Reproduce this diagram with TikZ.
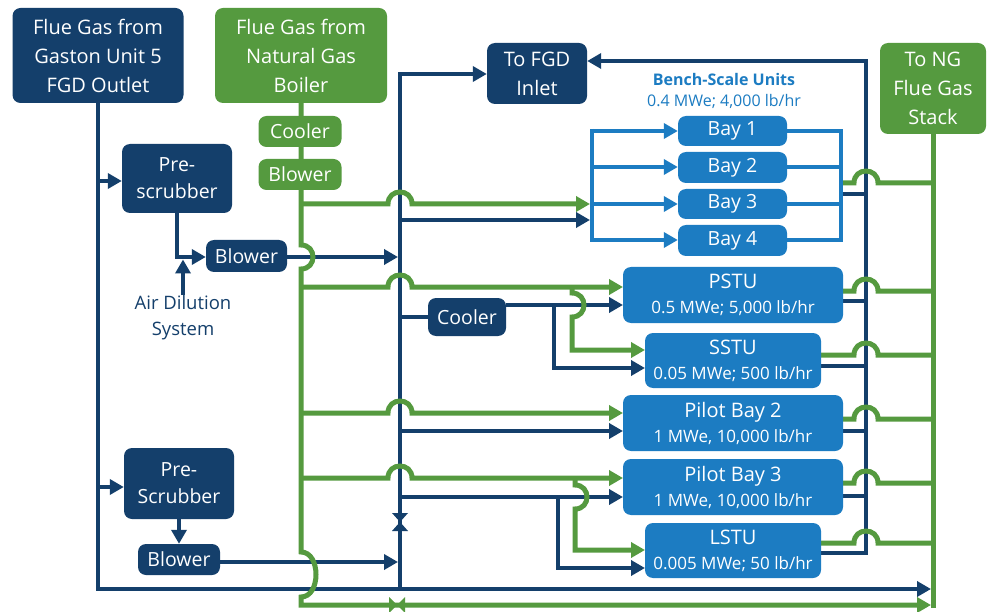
\documentclass[tikz,border=0pt]{standalone}
\usepackage{fontspec}
\setmainfont{Open Sans}
\usetikzlibrary{arrows.meta}
\definecolor{navy}{HTML}{143F6B}
\definecolor{ngreen}{HTML}{559A3F}
\definecolor{lblue}{HTML}{1C7CC2}
\newcommand\hopU[2]{-- ({#1-12},#2) .. controls ({#1-12},{#2-16}) and ({#1+12},{#2-16}) .. ({#1+12},#2)}
\newcommand\hopR[2]{-- (#1,{#2-12}) .. controls ({#1+16},{#2-12}) and ({#1+16},{#2+12}) .. (#1,{#2+12})}
\begin{document}
\begin{tikzpicture}[x=1pt,y=-1pt,
  box/.style={rounded corners=8pt, text=white, align=center, inner sep=0pt},
  navybox/.style={box, fill=navy},
  greenbox/.style={box, fill=ngreen},
  bluebox/.style={box, fill=lblue, font=\fontsize{17}{25}\selectfont},
  big/.style={font=\fontsize{20}{29}\selectfont},
  mid/.style={font=\fontsize{19.5}{27}\selectfont},
  nline/.style={draw=navy, line width=4.5pt},
  gline/.style={draw=ngreen, line width=5pt},
  bline/.style={draw=lblue, line width=4pt},
  tip/.style={-{Triangle[length=14pt,width=15pt]}},
]
\fill[white] (0,0) rectangle (990,612);
\useasboundingbox (0,0) rectangle (990,612);

% ---------- boxes ----------
\node[navybox, big, minimum width=171pt, minimum height=95pt] (gaston) at (98,55.5) {Flue Gas from\\Gaston Unit 5\\FGD Outlet};
\node[greenbox, big, minimum width=172pt, minimum height=95pt] (boiler) at (301,55.5) {Flue Gas from\\Natural Gas\\Boiler};
\node[navybox, big, minimum width=100pt, minimum height=61pt] (fgd) at (537,73.5) {To FGD\\Inlet};
\node[greenbox, big, minimum width=106pt, minimum height=91pt] (stack) at (933,88.5) {To NG\\Flue Gas\\Stack};
\node[navybox, mid, minimum width=110pt, minimum height=69pt] (pre1) at (177,178.5) {Pre-\\scrubber};
\node[navybox, mid, minimum width=81pt, minimum height=32pt] (blow1) at (246.5,256) {Blower};
\node[navybox, mid, minimum width=110pt, minimum height=71pt] (pre2) at (179,483.5) {Pre-\\Scrubber};
\node[navybox, mid, minimum width=82pt, minimum height=31pt] (blow2) at (179,559.5) {Blower};
\node[navybox, mid, minimum width=78pt, minimum height=38pt] (cool2) at (467,317) {Cooler};
\node[text=navy, align=center, inner sep=0pt, anchor=north, font=\fontsize{18.5}{26}\selectfont] (air) at (183,295) {Air Dilution\\System};

\node[text=lblue, inner sep=0pt, font=\bfseries\fontsize{16}{20}\selectfont] (bench) at (724,80) {Bench-Scale Units};
\node[text=lblue, inner sep=0pt, font=\fontsize{16}{20}\selectfont] (benchsub) at (724,101) {0.4 MWe; 4,000 lb/hr};

% ---------- navy lines ----------
\draw[nline,tip] (gaston.south) -- (98,589) -- (931,589);
\draw[nline,tip] (98,181) -- (pre1.west |- 0,181);
\draw[nline,tip] (98,487) -- (pre2.west |- 0,487);
\draw[nline,tip] (pre1.south) -- (177,257) -- (blow1.west |- 0,257);
\draw[nline,tip] (air.north) -- (183,259.5);
\draw[nline,tip] (blow1.east |- 0,257) -- (398,257);
\draw[nline,tip] (400,589) -- (400,74) -- (fgd.west |- 0,74);
\draw[nline,tip] (400,220) -- (590,220);
\draw[nline] (400,317) -- (cool2.west);
\draw[nline,tip] (cool2.east |- 0,305) -- (623,305);
\draw[nline,tip] (554,305) -- (554,368) -- (645,368);
\draw[nline,tip] (400,431) -- (623,431);
\draw[nline,tip] (400,497) -- (623,497);
\draw[nline,tip] (558,497) -- (558,568) -- (645,568);
\draw[nline,tip] (pre2.south) -- (blow2.north);
\draw[nline,tip] (blow2.east |- 0,562) -- (398,562);
\draw[nline,tip] (821,553) -- (866,553) -- (866,61) -- (fgd.east |- 0,61);
\draw[nline] (841,194) -- (866,194);
\draw[nline] (843,301) -- (866,301);
\draw[nline] (821,366) -- (866,366);
\draw[nline] (843,431) -- (866,431);
\draw[nline] (843,496) -- (866,496);
% valve on navy trunk
\fill[navy] (392,513) -- (408,513) -- (400,522) -- cycle;
\fill[navy] (392,531) -- (408,531) -- (400,522) -- cycle;

% ---------- green lines ----------
\draw[gline,tip] (boiler.south) \hopR{301}{257} -- (301,552)
  .. controls (321,552) and (321,597) .. (301,597) -- (301,605) -- (931,605);
\draw[gline,tip] (301,204) \hopU{400}{204} -- (590,204);
\draw[gline,tip] (301,287) \hopU{400}{287} -- (623,287);
\draw[gline,tip] (572,287) \hopR{572}{305} -- (572,350) -- (645,350);
\draw[gline,tip] (301,413) \hopU{400}{413} -- (623,413);
\draw[gline,tip] (301,478) \hopU{400}{478} -- (623,478);
\draw[gline,tip] (575,478) \hopR{575}{497} -- (575,550) -- (645,550);
\draw[gline] (stack.south) -- (933,608);
\draw[gline] (841,183) \hopU{866}{183} -- (933,183);
\draw[gline] (843,291) \hopU{866}{291} -- (933,291);
\draw[gline] (821,355) \hopU{866}{355} -- (933,355);
\draw[gline] (843,419) \hopU{866}{419} -- (933,419);
\draw[gline] (843,483) \hopU{866}{483} -- (933,483);
\draw[gline] (821,543) \hopU{866}{543} -- (933,543);
% valve on green bottom line
\fill[ngreen] (389,597) -- (389,613) -- (397,605) -- cycle;
\fill[ngreen] (405,597) -- (405,613) -- (397,605) -- cycle;

% ---------- green small boxes (on top of trunk) ----------
\node[greenbox, mid, minimum width=83pt, minimum height=31pt] (gcool) at (300,131.5) {Cooler};
\node[greenbox, mid, minimum width=83pt, minimum height=31pt] (gblow) at (300,174.5) {Blower};

% ---------- bench-scale units ----------
\node[box, fill=lblue, mid, minimum width=109pt, minimum height=30pt] (bay1) at (732.5,131) {Bay 1};
\node[box, fill=lblue, mid, minimum width=109pt, minimum height=31pt] (bay2) at (732.5,167.5) {Bay 2};
\node[box, fill=lblue, mid, minimum width=109pt, minimum height=30pt] (bay3) at (732.5,204) {Bay 3};
\node[box, fill=lblue, mid, minimum width=109pt, minimum height=31pt] (bay4) at (732.5,240.5) {Bay 4};
\draw[bline] (592,129) -- (592,242);
\foreach \b/\y in {bay1/131, bay2/167, bay3/204, bay4/240}
  \draw[bline,tip] (592,\y) -- (\b.west |- 0,\y);
\draw[bline] (bay1.east |- 0,131) -- (841,131) -- (841,240) -- (bay4.east |- 0,240);
\draw[bline] (bay2.east |- 0,167) -- (841,167);
\draw[bline] (bay3.east |- 0,204) -- (841,204);

% ---------- test units ----------
\node[bluebox, minimum width=220pt, minimum height=56pt] (pstu) at (733,295) {{\fontsize{20}{24}\selectfont PSTU}\\0.5 MWe; 5,000 lb/hr};
\node[bluebox, minimum width=176pt, minimum height=55pt] (sstu) at (733,360.5) {{\fontsize{20}{24}\selectfont SSTU}\\0.05 MWe; 500 lb/hr};
\node[bluebox, minimum width=220pt, minimum height=56pt] (pb2) at (733,423) {{\fontsize{20}{24}\selectfont Pilot Bay 2}\\1 MWe, 10,000 lb/hr};
\node[bluebox, minimum width=220pt, minimum height=56pt] (pb3) at (733,487) {{\fontsize{20}{24}\selectfont Pilot Bay 3}\\1 MWe, 10,000 lb/hr};
\node[bluebox, minimum width=176pt, minimum height=55pt] (lstu) at (733,550.5) {{\fontsize{20}{24}\selectfont LSTU}\\0.005 MWe; 50 lb/hr};
\end{tikzpicture}
\end{document}
